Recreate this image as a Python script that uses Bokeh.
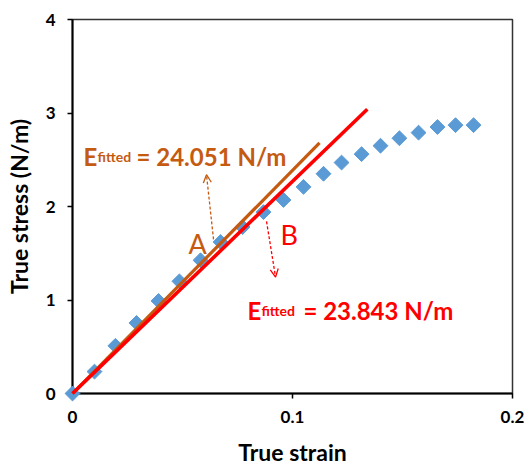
from bokeh.plotting import figure
from bokeh.models import Range1d, FixedTicker, Arrow, OpenHead
from bokeh.core.properties import value
from bokeh.embed import file_html
from bokeh.resources import INLINE

# measured data (true strain, true stress)
strain = [0, 0.0100, 0.0195, 0.0291, 0.0391, 0.0486, 0.0582, 0.0673, 0.0773, 0.0868,
          0.0959, 0.1050, 0.1141, 0.1223, 0.1314, 0.1400, 0.1486, 0.1573, 0.1659, 0.1741, 0.1823]
stress = [0, 0.234, 0.51, 0.755, 0.99, 1.20, 1.425, 1.62, 1.78, 1.94,
          2.07, 2.21, 2.35, 2.47, 2.56, 2.65, 2.73, 2.79, 2.85, 2.87, 2.87]

# fitted lines (end points)
fitA_x = [0, 0.1123]
fitA_y = [0, 2.68]
fitB_x = [0, 0.134]
fitB_y = [0, 3.04]

x_ticks = [0, 0.1, 0.2]
x_tick_labels = {0: "0", 0.1: "0.1", 0.2: "0.2"}
y_ticks = [0, 1, 2, 3, 4]

ORANGE = "#C55A11"
RED = "#FF0000"
BLUE = "#5B9BD5"
FONT = "Lato"

p = figure(width=524, height=468, output_backend="svg", toolbar_location=None,
           x_range=Range1d(0, 0.2), y_range=Range1d(0, 4),
           min_border_left=72, min_border_right=12, min_border_top=19, min_border_bottom=73)
p.background_fill_color = "white"
p.border_fill_color = "white"
p.outline_line_color = "#333333"
p.outline_line_width = 1.5
p.grid.visible = False

p.xaxis.ticker = FixedTicker(ticks=x_ticks)
p.xaxis.major_label_overrides = x_tick_labels
p.yaxis.ticker = FixedTicker(ticks=y_ticks)
for ax in (p.xaxis[0], p.yaxis[0]):
    ax.axis_line_color = "black"
    ax.axis_line_width = 2
    ax.major_tick_line_color = "black"
    ax.major_tick_line_width = 1.5
    ax.major_tick_in = 0
    ax.major_tick_out = 5
    ax.minor_tick_line_color = None
    ax.major_label_text_font = FONT
    ax.major_label_text_font_style = "bold"
    ax.major_label_text_font_size = "17px"
    ax.major_label_text_color = "black"
    ax.axis_label_text_font = FONT
    ax.axis_label_text_font_style = "bold"
    ax.axis_label_text_font_size = "23px"
    ax.axis_label_text_color = "black"
p.xaxis.axis_label = "True strain"
p.yaxis.axis_label = "True stress (N/m)"
p.xaxis.major_label_standoff = 12
p.yaxis.major_label_standoff = 12
p.xaxis.axis_label_standoff = 12
p.yaxis.axis_label_standoff = 10

p.scatter(strain, stress, marker="square", angle=0.785398, size=10.5,
          fill_color=BLUE, line_color=BLUE, level="overlay")
p.line(fitA_x, fitA_y, line_color=ORANGE, line_width=3.2, level="overlay")
p.line(fitB_x, fitB_y, line_color=RED, line_width=3.6, level="overlay")

# dashed arrows
p.add_layout(Arrow(x_start=0.0641, y_start=1.649, x_end=0.0609, y_end=2.34,
                   line_color=ORANGE, line_width=1.3, line_dash="3 2",
                   end=OpenHead(size=8, line_color=ORANGE, line_width=1.3)))
p.add_layout(Arrow(x_start=0.0882, y_start=1.84, x_end=0.0923, y_end=1.245,
                   line_color=RED, line_width=1.3, line_dash="3 2",
                   end=OpenHead(size=8, line_color=RED, line_width=1.3)))

def label(x, y, txt, color, size, style="normal", dx=0):
    p.text(x=[x], y=[y], text=[txt], text_color=color, text_font=value(FONT),
           text_font_size=size, text_font_style=style, x_offset=dx,
           text_baseline="alphabetic", text_align="left")

# annotations
label(0.005, 2.53, "E", ORANGE, "24px", "bold")
label(0.005, 2.53, "fitted", ORANGE, "14px", "bold", dx=14)
label(0.005, 2.53, "= 24.051 N/m", ORANGE, "24px", "bold", dx=53)
label(0.0795, 0.883, "E", RED, "24px", "bold")
label(0.0795, 0.883, "fitted", RED, "14px", "bold", dx=14)
label(0.0795, 0.883, "= 23.843 N/m", RED, "24px", "bold", dx=56)
label(0.0527, 1.60, "A", ORANGE, "27px")
label(0.0945, 1.70, "B", RED, "27px")

open("out.html", "w").write(file_html(p, INLINE))
